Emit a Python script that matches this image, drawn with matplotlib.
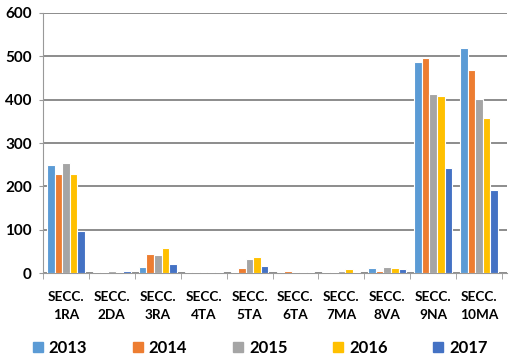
import matplotlib
matplotlib.use("Agg")
import matplotlib.pyplot as plt
import numpy as np
from matplotlib.lines import Line2D

plt.rcParams['font.family'] = ['Lato', 'DejaVu Sans']

categories = ["SECC.\n1RA", "SECC.\n2DA", "SECC.\n3RA", "SECC.\n4TA", "SECC.\n5TA",
              "SECC.\n6TA", "SECC.\n7MA", "SECC.\n8VA", "SECC.\n9NA", "SECC.\n10MA"]
years = ["2013", "2014", "2015", "2016", "2017"]
v2013 = [250, 3, 15, 3, 2, 3, 3, 13, 487, 520]
v2014 = [228, 3, 45, 3, 13, 5, 3, 5, 495, 468]
v2015 = [255, 4, 43, 3, 33, 3, 4, 15, 412, 402]
v2016 = [228, 3, 57, 3, 37, 3, 10, 12, 408, 358]
v2017 = [97, 4, 20, 3, 16, 3, 3, 10, 242, 192]
series = [v2013, v2014, v2015, v2016, v2017]
colors = ["#5B9BD5", "#ED7D31", "#A5A5A5", "#FFC000", "#4472C4"]
yticks = [0, 100, 200, 300, 400, 500, 600]

fig = plt.figure(figsize=(5.18, 3.58), dpi=100)
ax = fig.add_axes([0.083, 0.237, 0.895, 0.727])

x = np.arange(len(categories))
w = 0.165
for i, (vals, c) in enumerate(zip(series, colors)):
    ax.bar(x + (i - 2) * w, vals, width=w, color=c, edgecolor="white", linewidth=0.8,
           zorder=3)

ax.set_xlim(-0.5, 9.6)
ax.set_ylim(0, 600)
ax.set_yticks(yticks)
ax.set_yticklabels([str(t) for t in yticks], fontsize=11, fontweight="bold")
ax.set_xticks(x)
ax.set_xticklabels(categories, fontsize=9.8, fontweight="bold", linespacing=1.6)
ax.set_xticks(np.arange(-0.5, 10, 1), minor=True)
ax.tick_params(axis="x", which="major", length=0, pad=13)
ax.tick_params(axis="x", which="minor", length=4, color="#999999")
ax.tick_params(axis="y", length=3, color="#999999", pad=5)
ax.yaxis.grid(True, color="#8c8c8c", linewidth=1.4, zorder=0)
for s in ["top", "right"]:
    ax.spines[s].set_visible(False)
ax.spines["left"].set_color("#999999")
ax.spines["bottom"].set_color("#999999")

handles = [Line2D([], [], marker="s", linestyle="none", markersize=7,
                  markerfacecolor=c, markeredgecolor=c) for c in colors]
fig.legend(handles, years, loc="lower center", bbox_to_anchor=(0.5, -0.035), ncol=5,
           frameon=False, prop={"size": 12, "weight": "bold"},
           handletextpad=0.2, columnspacing=2.6, handlelength=0.9)

fig.savefig("out.png", dpi=100)
